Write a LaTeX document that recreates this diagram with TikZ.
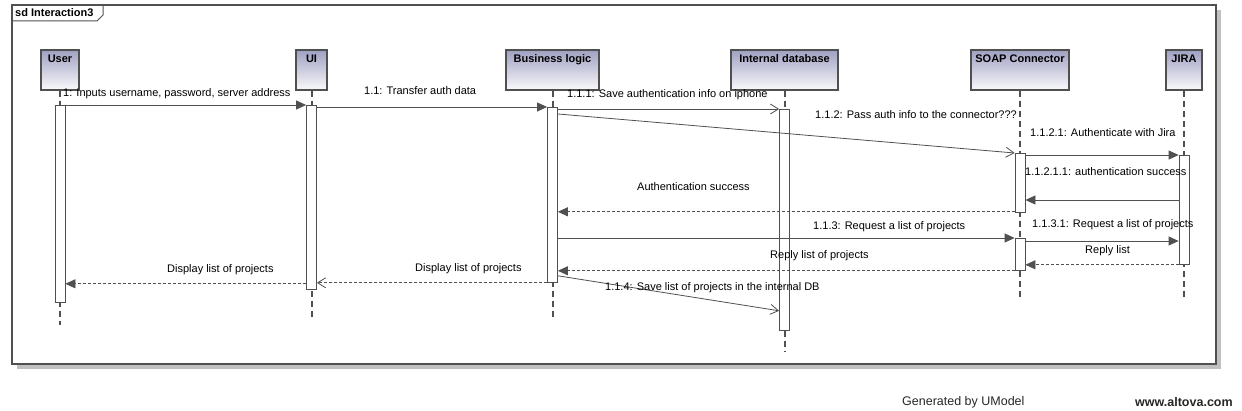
\documentclass[tikz,border=0pt]{standalone}
\usepackage{fontspec}
\setmainfont{Liberation Sans}
\usetikzlibrary{arrows.meta}
\definecolor{linegray}{RGB}{80,80,80}
\definecolor{headtop}{RGB}{160,160,194}
\definecolor{shadowgray}{RGB}{192,192,192}

\begin{document}
\begin{tikzpicture}[x=1pt, y=-1pt, font=\fontsize{11}{13}\selectfont,
    head/.style={draw=linegray, line width=1.2pt, top color=headtop, bottom color=headtop!6, minimum height=40pt, inner sep=0pt},
    headtxt/.style={anchor=north, inner sep=0pt, yshift=-5pt, font=\fontsize{11}{13}\selectfont\bfseries},
    bar/.style={draw=linegray, fill=white, line width=0.8pt, minimum width=10pt, inner sep=0pt, anchor=north},
    lifeline/.style={draw=linegray, line width=2pt, dash pattern=on 6pt off 4pt},
    call/.style={draw=linegray, line width=0.8pt, -{Triangle[length=10pt,width=9pt]}},
    reply/.style={call, dash pattern=on 3pt off 2pt},
    async/.style={draw=linegray, line width=0.8pt, -{Straight Barb[length=8pt,width=10pt]}},
    msg/.style={anchor=west, inner sep=0pt}]
    \useasboundingbox (0,0) rectangle (1242,411);

    % marco con sombra
    \fill[shadowgray] (17,10) rectangle (1221,369);
    \draw[linegray, line width=1.2pt, fill=white] (12,5) rectangle (1216,364);
    \draw[linegray, line width=1pt] (12,21) -- (97,21) -- (103,15) -- (103,5);
    \node[anchor=north west, inner sep=0pt, font=\fontsize{11}{13}\selectfont\bfseries] (sdLbl) at (15,8) {sd Interaction3};

    % cabeceras
    \node[head, minimum width=38pt] (userHead) at (60,70) {};
    \node[head, minimum width=31pt] (uiHead) at (311.5,70) {};
    \node[head, minimum width=93pt] (blHead) at (552.5,70) {};
    \node[head, minimum width=107pt] (dbHead) at (784.5,70) {};
    \node[head, minimum width=98pt] (soapHead) at (1020,70) {};
    \node[head, minimum width=36pt] (jiraHead) at (1184,70) {};
    \node[headtxt] (userTxt) at (userHead.north) {User};
    \node[headtxt] (uiTxt) at (uiHead.north) {UI};
    \node[headtxt] (blTxt) at (blHead.north) {Business logic};
    \node[headtxt] (dbTxt) at (dbHead.north) {Internal database};
    \node[headtxt] (soapTxt) at (soapHead.north) {SOAP Connector};
    \node[headtxt] (jiraTxt) at (jiraHead.north) {JIRA};

    % lineas de vida
    \coordinate (userEnd) at (60,325);
    \coordinate (uiEnd) at (311.5,319);
    \coordinate (blEnd) at (552.5,319);
    \coordinate (dbEnd) at (784.5,351);
    \coordinate (soapEnd) at (1020,300);
    \coordinate (jiraEnd) at (1184,299);
    \draw[lifeline] (userHead.south) -- (userEnd);
    \draw[lifeline] (uiHead.south) -- (uiEnd);
    \draw[lifeline] (blHead.south) -- (blEnd);
    \draw[lifeline] (dbHead.south) -- (dbEnd);
    \draw[lifeline] (soapHead.south) -- (soapEnd);
    \draw[lifeline] (jiraHead.south) -- (jiraEnd);

    % activaciones
    \node[bar, minimum height=197pt] (userAct) at (60,105) {};
    \node[bar, minimum height=184pt] (uiAct) at (311.5,105) {};
    \node[bar, minimum height=175pt] (blAct) at (552.5,107) {};
    \node[bar, minimum height=221pt] (dbAct) at (784.5,109) {};
    \node[bar, minimum height=59pt] (soapActA) at (1020,153) {};
    \node[bar, minimum height=32pt] (soapActB) at (1020,238) {};
    \node[bar, minimum height=109pt] (jiraAct) at (1184,155) {};

    % mensajes
    \draw[call] (userAct.north east) -- (uiAct.north west);
    \draw[call] ([yshift=-2pt]uiAct.north east) -- (blAct.north west);
    \draw[async] ([yshift=-2pt]blAct.north east) -- (dbAct.north west);
    \draw[async] ([yshift=-7pt]blAct.north east) -- (soapActA.north west);
    \draw[call] (soapActA.east |- jiraAct.north) -- (jiraAct.north west);
    \draw[call] ([yshift=-45pt]jiraAct.north west) coordinate (q6) -- (soapActA.east |- q6);
    \draw[reply] ([yshift=1pt]soapActA.south west) coordinate (q7) -- (blAct.east |- q7);
    \draw[call] (blAct.east |- soapActB.north) -- (soapActB.north west);
    \draw[call] ([yshift=-3pt]soapActB.north east) coordinate (q9) -- (jiraAct.west |- q9);
    \draw[reply] (jiraAct.south west) -- (soapActB.east |- jiraAct.south);
    \draw[reply] (soapActB.south west) -- (blAct.east |- soapActB.south);
    \draw[async, dash pattern=on 3pt off 2pt] (blAct.south west) -- (uiAct.east |- blAct.south);
    \draw[reply] ([yshift=-1pt]uiAct.west |- blAct.south) coordinate (q13) -- (userAct.east |- q13);
    \draw[async] ([yshift=7pt]blAct.south east) -- ([yshift=20pt]dbAct.south west);

    % textos de mensajes
    \node[msg] (lbl1) at (63,94) {1: Inputs username, password, server address};
    \node[msg] (lbl2) at (364,91) {1.1: Transfer auth data};
    \node[msg] (lbl3) at (567,95) {1.1.1: Save authentication info on iphone};
    \node[msg] (lbl4) at (815,115) {1.1.2: Pass auth info to the connector???};
    \node[msg] (lbl5) at (1030,133) {1.1.2.1: Authenticate with Jira};
    \node[msg] (lbl6) at (1025,172) {1.1.2.1.1: authentication success};
    \node[msg] (lbl7) at (637,187) {Authentication success};
    \node[msg] (lbl8) at (813,227) {1.1.3: Request a list of projects};
    \node[msg] (lbl9) at (1032,225) {1.1.3.1: Request a list of projects};
    \node[msg] (lbl10) at (1085,251) {Reply list};
    \node[msg] (lbl11) at (770,256) {Reply list of projects};
    \node[msg] (lbl12) at (415,269) {Display list of projects};
    \node[msg] (lbl13) at (167,270) {Display list of projects};
    \node[msg] (lbl14) at (605,288) {1.1.4: Save list of projects in the internal DB};

    % pie
    \node[msg, font=\fontsize{12.5}{14}\selectfont, text=black!85] (genTxt) at (902,402) {Generated by UModel};
    \node[msg, font=\fontsize{12.5}{14}\selectfont\bfseries, text=black!85] (webTxt) at (1135,402) {www.altova.com};
\end{tikzpicture}
\end{document}
